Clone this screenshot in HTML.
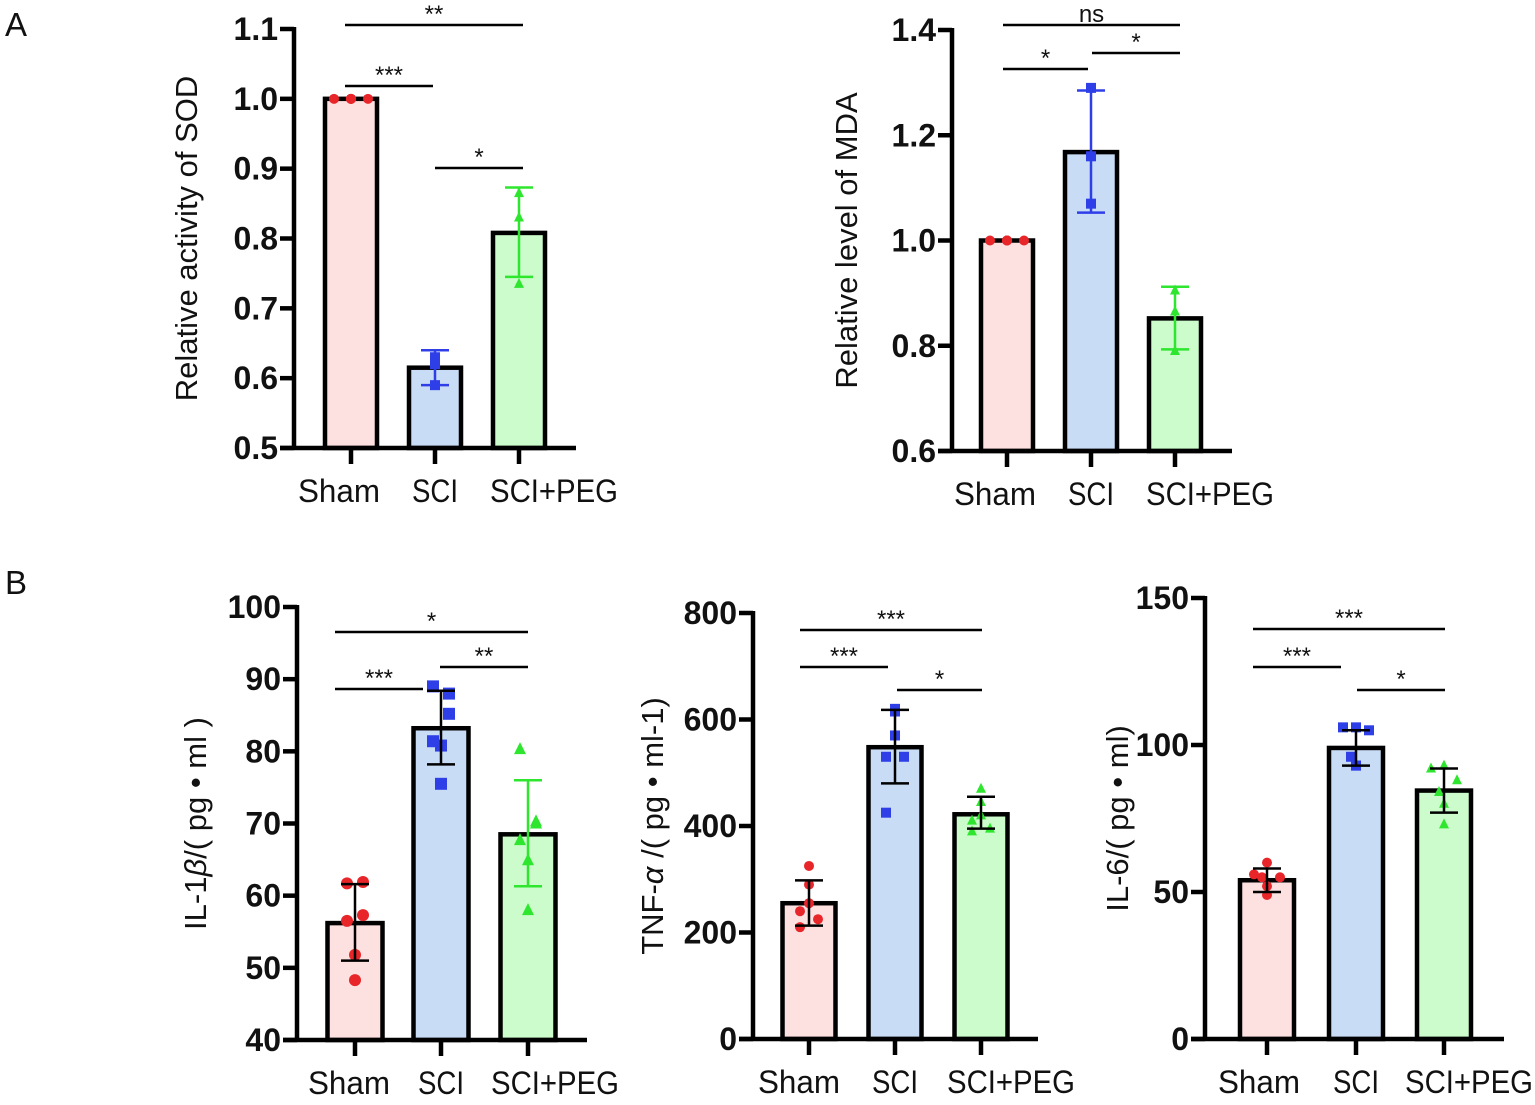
<!DOCTYPE html>
<html><head><meta charset="utf-8">
<style>
html,body{margin:0;padding:0;background:#fff;}
svg{display:block;font-family:"Liberation Sans",Arial,sans-serif;}
.tick{font-weight:bold;font-size:32px;fill:#111;}
.cat{font-size:32px;fill:#111;}
.ytitle{font-size:31px;fill:#111;}
.sig{font-size:24px;fill:#111;}
.plabel{font-size:33px;fill:#111;}
</style></head>
<body>
<svg id="fig" width="1535" height="1105" viewBox="0 0 1535 1105">
<text class="plabel" x="5" y="36">A</text>
<text class="plabel" x="5" y="594">B</text>
</svg>
<script>
const categories = ["Sham","SCI","SCI+PEG"];
// Panel A1: SOD
const sodMeans = [1.0, 0.615, 0.808];
const sodPoints = [[1.0,1.0,1.0],[0.63,0.62,0.59],[0.865,0.83,0.735]];
const sodErr = [[1.0,1.0],[0.59,0.64],[0.745,0.873]];
const sodTicks = [0.5,0.6,0.7,0.8,0.9,1.0,1.1];
const sodTickLabels = ["0.5","0.6","0.7","0.8","0.9","1.0","1.1"];
// Panel A2: MDA
const mdaMeans = [1.0, 1.168, 0.852];
const mdaPoints = [[1.0,1.0,1.0],[1.29,1.16,1.07],[0.905,0.865,0.79]];
const mdaErr = [[1.0,1.0],[1.053,1.285],[0.793,0.912]];
const mdaTicks = [0.6,0.8,1.0,1.2,1.4];
const mdaTickLabels = ["0.6","0.8","1.0","1.2","1.4"];
// Panel B1: IL-1b
const il1Means = [56.2, 83.2, 68.5];
const il1Points = [[61.7,61.9,57.3,56.5,51.8,48.3],[89,88,85.2,81.4,80.8,75.5],[80.3,70.3,70,67.7,64.9,58]];
const il1Err = [[51,61.6],[78.2,88.4],[61.3,76]];
const il1Ticks = [40,50,60,70,80,90,100];
const il1TickLabels = ["40","50","60","70","80","90","100"];
// Panel B2: TNF-a
const tnfMeans = [255, 548, 422];
const tnfPoints = [[325,290,255,240,225,210],[620,615,570,530,530,425],[470,445,420,410,395,390]];
const tnfErr = [[213,298],[480,618],[395,455]];
const tnfTicks = [0,200,400,600,800];
const tnfTickLabels = ["0","200","400","600","800"];
// Panel B3: IL-6
const il6Means = [54, 99, 84.5];
const il6Points = [[60,56,55,55,52,49],[106,106,105,96,93,93],[93,92,88,84,80,73]];
const il6Err = [[50,58],[93,105],[77,92]];
const il6Ticks = [0,50,100,150];
const il6TickLabels = ["0","50","100","150"];

const NS="http://www.w3.org/2000/svg";
const svg=document.getElementById('fig');
const fills=["#fde0e0","#c9dcf5","#ccfccc"];
const mcol=["#e8262a","#2f3fe8","#2ee62e"];
const catLen=[82,46,128];
function mk(tag,attrs,parent){const e=document.createElementNS(NS,tag);for(const k in attrs)e.setAttribute(k,attrs[k]);(parent||svg).appendChild(e);return e;}

function panel(cfg){
  const g=mk('g',{});
  
  
  const y=v=>cfg.yBot-(v-cfg.min)/(cfg.max-cfg.min)*(cfg.yBot-cfg.yTop);
  const hw=cfg.bw/2;
  cfg.means.forEach((m,i)=>{
    const cx=cfg.cx[i];
    const r=mk('rect',{x:cx-hw,y:y(m),width:cfg.bw,height:cfg.yBot-y(m),fill:fills[i],stroke:'#000','stroke-width':4.5},g);
    
    
  });
  cfg.points.forEach((pts,i)=>{
    const cx=cfg.cx[i];
    const n=pts.length;
    pts.forEach((v,j)=>{
      const off=cfg.offsets[n][j];
      const px=cx+off, py=y(v);
      let e;
      if(i===0) e=mk('circle',{cx:px,cy:py,r:cfg.mr,fill:mcol[0]},g);
      else if(i===1) e=mk('rect',{x:px-cfg.mr,y:py-cfg.mr,width:cfg.mr*2,height:cfg.mr*2,fill:mcol[1]},g);
      else e=mk('polygon',{points:`${px},${py-cfg.mr-1} ${px-cfg.mr},${py+cfg.mr-1} ${px+cfg.mr},${py+cfg.mr-1}`,fill:mcol[2]},g);
      
      
    });
  });
  cfg.err.forEach((er,i)=>{
    if(er[0]===er[1])return;
    const cx=cfg.cx[i];const c=cfg.errCol[i];
    const eg=mk('g',{stroke:c,'stroke-width':2.5},g);
    
    
    mk('line',{x1:cx,x2:cx,y1:y(er[0]),y2:y(er[1])},eg);
    mk('line',{x1:cx-14,x2:cx+14,y1:y(er[0]),y2:y(er[0])},eg);
    mk('line',{x1:cx-14,x2:cx+14,y1:y(er[1]),y2:y(er[1])},eg);
  });
  const ya=mk('line',{x1:cfg.ax,x2:cfg.ax,y1:cfg.yTop-2,y2:cfg.yBot+2,stroke:'#000','stroke-width':4.5},g);
  
  const xa=mk('line',{x1:cfg.ax-14,x2:cfg.xEnd,y1:cfg.yBot,y2:cfg.yBot,stroke:'#000','stroke-width':4.5},g);
  
  cfg.ticks.forEach((t,k)=>{
    mk('line',{x1:cfg.ax-14,x2:cfg.ax,y1:y(t),y2:y(t),stroke:'#000','stroke-width':4.5},g);
    const tx=mk('text',{x:cfg.ax-16,y:y(t)+11,'text-anchor':'end',class:'tick'},g);
    tx.textContent=cfg.tickLabels[k];
    
  });
  categories.forEach((c,i)=>{
    mk('line',{x1:cfg.cx[i],x2:cfg.cx[i],y1:cfg.yBot,y2:cfg.yBot+16,stroke:'#000','stroke-width':4.5},g);
    const tx=mk('text',{x:cfg.cx[i]+(cfg.catShift?cfg.catShift[i]:0),y:cfg.yBot+54,'text-anchor':'middle',class:'cat',textLength:catLen[i],lengthAdjust:'spacingAndGlyphs'},g);
    tx.textContent=c;
    
  });
  const tt=mk('text',{x:0,y:0,'text-anchor':'middle',class:'ytitle',transform:`translate(${cfg.titleX},${(cfg.yTop+cfg.yBot)/2}) rotate(-90)`},g);
  tt.innerHTML=cfg.title;
  
  cfg.sig.forEach(s=>{
    const sg=mk('g',{},g);
    
    
    mk('line',{x1:s[0],x2:s[1],y1:s[2],y2:s[2],stroke:'#000','stroke-width':2.5},sg);
    const t=mk('text',{x:(s[0]+s[1])/2,y:s[2]-3,'text-anchor':'middle',class:'sig'},sg);
    t.textContent=s[3];
  });
}
panel({name:'sod-chart',means:sodMeans,points:sodPoints,err:sodErr,ticks:sodTicks,tickLabels:sodTickLabels,
  min:0.5,max:1.1,yTop:29,yBot:448,ax:294,xEnd:576,cx:[351,435,519],bw:52,mr:5,
  offsets:{3:[0,0,0]},errCol:['#000',mcol[1],mcol[2]],titleX:197,catShift:[-12,0,35],
  title:'Relative activity of SOD',sig:[[345,523,25,'**'],[345,433,86,'***'],[435,523,168,'*']]});
(function(){const y=v=>448-(v-0.5)/0.6*419;[-17,0,17].forEach(o=>{const c=mk('circle',{cx:351+o,cy:y(sodPoints[0][0]),r:5,fill:mcol[0]});});})();
panel({name:'mda-chart',means:mdaMeans,points:mdaPoints,err:mdaErr,ticks:mdaTicks,tickLabels:mdaTickLabels,
  min:0.6,max:1.4,yTop:30,yBot:451,ax:952,xEnd:1232,cx:[1007,1091,1175],bw:52,mr:5,
  offsets:{3:[0,0,0]},errCol:['#000',mcol[1],mcol[2]],titleX:857,catShift:[-12,0,35],
  title:'Relative level of MDA',sig:[[1003,1180,25,'ns'],[1003,1088,69,'*'],[1092,1180,53,'*']]});
(function(){const y=v=>451-(v-0.6)/0.8*421;[-17,0,17].forEach(o=>{const c=mk('circle',{cx:1007+o,cy:y(mdaPoints[0][0]),r:5,fill:mcol[0]});});})();
panel({name:'il1b-chart',means:il1Means,points:il1Points,err:il1Err,ticks:il1Ticks,tickLabels:il1TickLabels,
  min:40,max:100,yTop:607,yBot:1040,ax:297,xEnd:587,cx:[355,441,528],bw:55,mr:6,
  offsets:{6:[-8,8,8,-8,0,0]},errCol:['#000','#000',mcol[2]],titleX:206,catShift:[-6,0,27],
  title:'IL-1<tspan font-style="italic">β</tspan>/( pg • ml )',sig:[[335,528,632,'*'],[440,528,667,'**'],[335,423,689,'***']]});
panel({name:'tnf-chart',means:tnfMeans,points:tnfPoints,err:tnfErr,ticks:tnfTicks,tickLabels:tnfTickLabels,
  min:0,max:800,yTop:613,yBot:1039,ax:753,xEnd:1038,cx:[809,895,981],bw:53,mr:5,
  offsets:{6:[0,0,0,-9,9,-9]},errCol:['#000','#000','#000'],titleX:663,catShift:[-10,0,30],
  title:'TNF-<tspan font-style="italic">α</tspan> /( pg • ml-1)',sig:[[800,982,630,'***'],[800,888,667,'***'],[897,982,690,'*']]});
panel({name:'il6-chart',means:il6Means,points:il6Points,err:il6Err,ticks:il6Ticks,tickLabels:il6TickLabels,
  min:0,max:150,yTop:598,yBot:1039,ax:1205,xEnd:1504,cx:[1267,1356,1444],bw:54,mr:5,
  offsets:{6:[0,-13,13,-5,0,0]},errCol:['#000','#000','#000'],titleX:1128,catShift:[-8,0,25],
  title:'IL-6/( pg • ml)',sig:[[1253,1445,629,'***'],[1253,1341,667,'***'],[1357,1445,690,'*']]});
</script>
</body></html>
